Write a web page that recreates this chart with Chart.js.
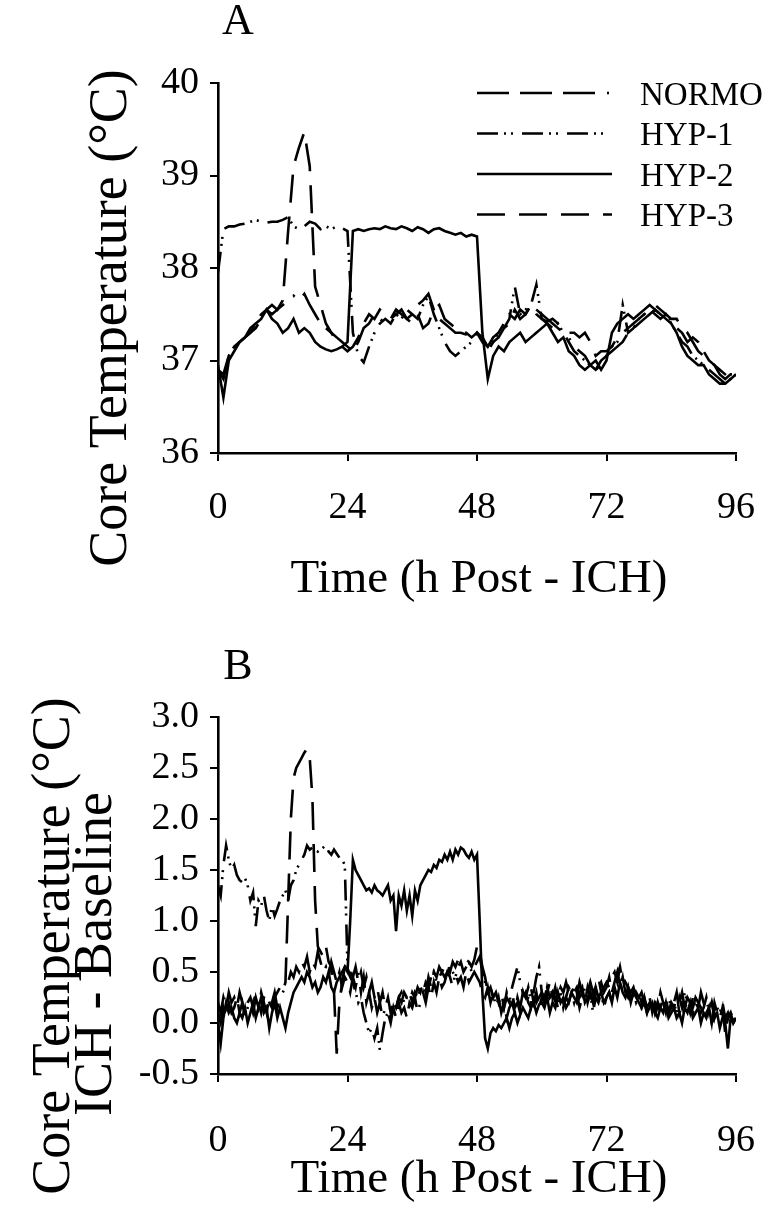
<!DOCTYPE html>
<html>
<head>
<meta charset="utf-8">
<script src="https://cdn.jsdelivr.net/npm/chart.js@4.4.1/dist/chart.umd.min.js"></script>
<style>
  html, body { margin: 0; padding: 0; background: #fff; }
  #wrap { position: relative; width: 769px; height: 1209px; }
  canvas { position: absolute; left: 0; }
  #cA { top: 0; }
  #cB { top: 620px; }
</style>
</head>
<body>
<div id="wrap">
  <canvas id="cA" width="769" height="620"></canvas>
  <canvas id="cB" width="769" height="589"></canvas>
</div>
<script>
// ---- Panel A: core temperature (°C), hourly samples 0–96 h ----
const normoA = [
  36.9, 36.8, 37.05, 37.15, 37.2, 37.25, 37.3, 37.4, 37.5, 37.55, 37.5, 37.55,
  37.6, 37.65, 37.7, 37.65, 37.72, 37.6, 37.5, 37.4, 37.35, 37.3, 37.25, 37.2,
  37.15, 37.1, 37.2, 37.35, 37.4, 37.5, 37.45, 37.4, 37.45, 37.55, 37.5, 37.45,
  37.5, 37.6, 37.65, 37.72, 37.55, 37.45, 37.4, 37.35, 37.3, 37.3, 37.28, 37.25,
  37.3, 37.2, 37.15, 37.25, 37.3, 37.4, 37.5, 37.45, 37.55, 37.5, 37.6, 37.55,
  37.5, 37.45, 37.4, 37.35, 37.3, 37.25, 37.15, 37.1, 37.05, 36.95, 36.9, 36.95,
  37.05, 37.1, 37.15, 37.2, 37.3, 37.35, 37.4, 37.45, 37.5, 37.55, 37.5, 37.45,
  37.45, 37.35, 37.3, 37.2, 37.25, 37.2, 37.1, 37.0, 36.95, 36.9, 36.85, 36.8,
  36.85
];
const hyp1A = [
  37.95, 38.42, 38.45, 38.45, 38.47, 38.48, 38.5, 38.52, 38.5, 38.49, 38.5, 38.5,
  38.52, 38.55, 38.45, 38.42, 38.45, 38.5, 38.48, 38.42, 38.45, 38.42, 38.45, 38.43,
  38.4, 37.3, 37.05, 36.98, 37.15, 37.3, 37.4, 37.45, 37.4, 37.5, 37.45, 37.55,
  37.5, 37.45, 37.6, 37.7, 37.5, 37.35, 37.2, 37.1, 37.05, 37.1, 37.15, 37.2,
  37.3, 37.25, 37.15, 37.2, 37.3, 37.35, 37.45, 37.8, 37.5, 37.55, 37.6, 37.82,
  37.45, 37.4, 37.35, 37.4, 37.3, 37.2, 37.1, 37.05, 37.0, 36.95, 36.9, 37.0,
  37.05, 37.15, 37.2, 37.6, 37.3, 37.35, 37.45, 37.5, 37.55, 37.5, 37.45, 37.5,
  37.4, 37.3, 37.2, 37.15, 37.05, 37.0, 36.95, 36.9, 36.85, 36.8, 36.75, 36.8,
  36.85
];
const hyp2A = [
  36.95, 36.6, 37.0, 37.1, 37.2, 37.25, 37.35, 37.4, 37.45, 37.55, 37.45, 37.4,
  37.3, 37.35, 37.45, 37.3, 37.35, 37.3, 37.2, 37.15, 37.12, 37.1, 37.12, 37.15,
  37.2, 38.4, 38.42, 38.4, 38.42, 38.43, 38.42, 38.45, 38.43, 38.42, 38.45, 38.43,
  38.4, 38.44, 38.42, 38.38, 38.42, 38.43, 38.4, 38.38, 38.36, 38.38, 38.34, 38.36,
  38.34, 37.3, 36.8, 37.05, 37.15, 37.1, 37.2, 37.25, 37.3, 37.2, 37.25, 37.3,
  37.35, 37.4, 37.3, 37.2, 37.25, 37.1, 37.05, 36.95, 36.9, 36.95, 37.0, 36.9,
  37.0, 37.3, 37.4, 37.45, 37.5, 37.45, 37.5, 37.55, 37.6, 37.55, 37.5, 37.45,
  37.4, 37.3, 37.15, 37.05, 37.0, 36.95, 36.95, 36.85, 36.8, 36.75, 36.75, 36.8,
  36.85
];
const hyp3A = [
  36.9, 36.85, 37.05, 37.15, 37.2, 37.25, 37.3, 37.35, 37.45, 37.55, 37.6, 37.55,
  37.65, 38.4, 39.1, 39.3, 39.47, 39.1, 37.8, 37.6, 37.4, 37.3, 37.2, 37.15,
  37.1, 37.15, 37.25, 37.4, 37.5, 37.45, 37.55, 37.5, 37.45, 37.5, 37.55, 37.45,
  37.4, 37.5, 37.35, 37.4, 37.55, 37.6, 37.45, 37.4, 37.35, 37.3, 37.3, 37.25,
  37.3, 37.2, 37.1, 37.2, 37.25, 37.35, 37.4, 37.55, 37.45, 37.5, 37.6, 37.5,
  37.45, 37.42, 37.45, 37.4, 37.35, 37.3, 37.3, 37.25, 37.3, 37.2, 37.05, 37.1,
  37.1, 37.15, 37.25, 37.3, 37.35, 37.4, 37.45, 37.5, 37.55, 37.6, 37.55, 37.5,
  37.45, 37.45, 37.35, 37.3, 37.2, 37.1, 37.05, 37.0, 36.95, 36.85, 36.8, 36.85,
  36.85
];

// ---- Panel B: ICH minus baseline (°C), half-hourly samples 0–96 h ----
const normoB = [
  0.1, 0.0, 0.15, 0.05, 0.2, 0.1, 0.15, 0.25, 0.1, 0.2, 0.05, 0.15,
  0.2, 0.1, 0.25, 0.15, 0.3, 0.2, 0.1, 0.25, 0.2, 0.3, 0.15, 0.25,
  0.3, 0.35, 0.4, 0.5, 0.45, 0.55, 0.5, 0.6, 0.55, 0.65, 0.5, 0.6,
  0.55, 0.7, 0.6, 0.5, 0.55, 0.45, 0.6, 0.5, 0.4, 0.5, 0.35, 0.45,
  0.4, 0.3, 0.45, 0.35, 0.5, 0.3, 0.45, 0.2, 0.3, 0.15, 0.25, 0.1,
  0.2, 0.05, 0.15, 0.1, 0.0, 0.15, 0.05, 0.2, 0.1, 0.15, 0.05, 0.2,
  0.15, 0.25, 0.1, 0.2, 0.3, 0.2, 0.35, 0.25, 0.4, 0.3, 0.45, 0.35,
  0.4, 0.5, 0.45, 0.35, 0.5, 0.4, 0.45, 0.35, 0.5, 0.4, 0.45, 0.5,
  0.45, 0.4, 0.3, 0.25, 0.35, 0.2, 0.3, 0.15, 0.25, 0.1, 0.2, 0.05,
  0.15, 0.2, 0.1, 0.25, 0.15, 0.3, 0.2, 0.25, 0.35, 0.2, 0.3, 0.15,
  0.25, 0.2, 0.3, 0.4, 0.25, 0.35, 0.2, 0.3, 0.15, 0.25, 0.2, 0.3,
  0.35, 0.25, 0.4, 0.3, 0.2, 0.35, 0.25, 0.3, 0.2, 0.35, 0.4, 0.3,
  0.35, 0.45, 0.3, 0.4, 0.5, 0.35, 0.45, 0.3, 0.25, 0.35, 0.2, 0.3,
  0.25, 0.3, 0.2, 0.15, 0.25, 0.1, 0.2, 0.15, 0.3, 0.2, 0.1, 0.25,
  0.15, 0.2, 0.3, 0.1, 0.2, 0.15, 0.25, 0.2, 0.1, 0.2, 0.15, 0.3,
  0.2, 0.1, 0.15, 0.0, 0.2, 0.1, 0.05, 0.15, -0.1, 0.05, 0.1, 0.0,
  0.05
];
const hyp1B = [
  1.35, 1.25, 1.55, 1.74, 1.6, 1.5, 1.55, 1.45, 1.4, 1.38, 1.42, 1.35,
  1.2, 1.28, 0.95, 1.2, 1.15, 1.25, 1.1, 1.0, 1.15, 1.05, 1.12, 1.2,
  1.25, 1.3, 1.2, 1.35, 1.4, 1.5, 1.55, 1.6, 1.65, 1.74, 1.7, 1.72,
  1.7, 1.68, 1.7, 1.72, 1.75, 1.68, 1.65, 1.7, 1.66, 1.62, 1.6, 1.55,
  0.55, 0.45, 0.4, 0.3, 0.2, 0.25, 0.1, 0.0, -0.1, -0.05, -0.15, -0.05,
  -0.27, -0.1, 0.05, 0.1, 0.15, 0.2, 0.15, 0.25, 0.3, 0.2, 0.25, 0.3,
  0.2, 0.3, 0.25, 0.35, 0.3, 0.4, 0.35, 0.45, 0.5, 0.4, 0.45, 0.5,
  0.45, 0.5, 0.55, 0.5, 0.45, 0.55, 0.6, 0.5, 0.55, 0.6, 0.5, 0.55,
  0.6, 0.65, 0.5, 0.4, 0.3, 0.35, 0.25, 0.3, 0.2, 0.25, 0.15, 0.3,
  0.2, 0.35, 0.45, 0.55, 0.4, 0.3, 0.25, 0.35, 0.2, 0.3, 0.45, 0.55,
  0.3, 0.25, 0.35, 0.2, 0.3, 0.25, 0.15, 0.3, 0.2, 0.25, 0.35, 0.3,
  0.2, 0.3, 0.15, 0.25, 0.35, 0.2, 0.3, 0.1, 0.25, 0.2, 0.3, 0.15,
  0.25, 0.3, 0.2, 0.35, 0.45, 0.55, 0.4, 0.3, 0.35, 0.25, 0.3, 0.2,
  0.25, 0.15, 0.2, 0.1, 0.2, 0.15, 0.05, 0.2, 0.1, 0.15, 0.25, 0.1,
  0.15, 0.2, 0.1, 0.25, 0.15, 0.3, 0.2, 0.1, 0.25, 0.15, 0.2, 0.1,
  0.15, 0.25, 0.1, 0.2, 0.05, 0.15, 0.1, 0.2, 0.05, 0.1, 0.0, 0.05,
  0.1
];
const hyp2B = [
  0.0, -0.2, 0.05, 0.2, 0.1, 0.15, 0.05, 0.0, 0.1, 0.05, 0.15, 0.0,
  0.1, 0.2, 0.05, 0.15, 0.25, 0.1, 0.15, -0.05, 0.1, 0.2, 0.05, 0.15,
  0.05, -0.05, 0.1, 0.2, 0.3, 0.35, 0.4, 0.45, 0.4, 0.5, 0.45, 0.35,
  0.4, 0.3, 0.35, 0.45, 0.4, 0.5, 0.35, 0.3, 0.4, 0.45, 0.5, 0.55,
  0.5, 1.0, 1.6, 1.5, 1.45, 1.4, 1.35, 1.3, 1.32, 1.28, 1.35, 1.3,
  1.28, 1.25, 1.3, 1.35, 1.2, 1.25, 0.9, 1.25, 1.15, 1.3, 1.1, 1.25,
  1.05, 1.3, 1.2, 1.35, 1.4, 1.45, 1.5, 1.48, 1.55, 1.52, 1.6, 1.58,
  1.65, 1.6, 1.68, 1.6, 1.7, 1.65, 1.72, 1.7, 1.65, 1.62, 1.68, 1.6,
  1.65, 1.0, 0.3, -0.15, -0.25, -0.1, -0.05, -0.08, -0.02, -0.05, 0.0, 0.05,
  -0.05, 0.05, 0.1, 0.0, 0.08, 0.15, 0.1, 0.05, 0.15, 0.2, 0.1, 0.18,
  0.2, 0.15, 0.25, 0.1, 0.2, 0.15, 0.3, 0.2, 0.25, 0.15, 0.2, 0.3,
  0.25, 0.2, 0.3, 0.35, 0.2, 0.25, 0.3, 0.2, 0.35, 0.25, 0.3, 0.2,
  0.25, 0.3, 0.2, 0.35, 0.25, 0.4, 0.3, 0.25, 0.35, 0.2, 0.3, 0.25,
  0.2, 0.15, 0.25, 0.1, 0.15, 0.2, 0.1, 0.05, 0.15, 0.1, 0.2, 0.05,
  0.1, 0.15, 0.05, 0.1, 0.0, 0.15, 0.1, 0.2, 0.05, 0.1, 0.15, 0.0,
  0.1, 0.05, 0.15, 0.0, 0.05, 0.1, -0.05, 0.05, 0.0, -0.25, 0.05, 0.0,
  0.05
];
const hyp3B = [
  0.2, 0.1, 0.25, 0.15, 0.3, 0.2, 0.25, 0.15, 0.3, 0.2, 0.1, 0.2,
  0.25, 0.15, 0.3, 0.2, 0.1, 0.25, 0.3, 0.2, 0.15, 0.25, 0.3, 0.35,
  0.3, 0.4, 1.2, 2.0, 2.4, 2.5, 2.55, 2.6, 2.65, 2.69, 2.6, 2.2,
  1.2, 0.75, 0.7, 0.65, 0.75, 0.6, 0.55, 0.3, -0.3, 0.2, 0.4, 0.55,
  0.6, 0.5, 0.45, 0.55, 0.4, 0.5, 0.35, 0.45, 0.3, 0.4, 0.25, 0.35,
  0.2, 0.3, 0.15, 0.25, 0.1, 0.2, 0.15, 0.25, 0.2, 0.3, 0.25, 0.2,
  0.3, 0.25, 0.35, 0.3, 0.4, 0.3, 0.45, 0.35, 0.5, 0.45, 0.55, 0.5,
  0.55, 0.6, 0.5, 0.6, 0.55, 0.62, 0.6, 0.58, 0.62, 0.6, 0.55, 0.62,
  0.75, 0.7, 0.55, 0.45, 0.3, 0.35, 0.25, 0.3, 0.2, 0.3, 0.15, 0.25,
  0.2, 0.3, 0.15, 0.2, 0.1, 0.25, 0.3, 0.2, 0.15, 0.3, 0.2, 0.25,
  0.3, 0.2, 0.35, 0.25, 0.3, 0.2, 0.25, 0.35, 0.3, 0.4, 0.3, 0.25,
  0.3, 0.35, 0.25, 0.3, 0.2, 0.3, 0.4, 0.3, 0.35, 0.45, 0.3, 0.35,
  0.4, 0.35, 0.45, 0.5, 0.4, 0.55, 0.45, 0.4, 0.35, 0.3, 0.35, 0.25,
  0.3, 0.2, 0.25, 0.15, 0.2, 0.25, 0.1, 0.2, 0.15, 0.25, 0.2, 0.1,
  0.2, 0.15, 0.25, 0.2, 0.3, 0.15, 0.2, 0.1, 0.15, 0.25, 0.2, 0.15,
  0.2, 0.1, 0.15, 0.2, 0.1, 0.05, 0.15, 0.1, 0.0, 0.05, 0.1, 0.05,
  0.1
];

// Series names and axis tick settings
const seriesNames = ['NORMO', 'HYP-1', 'HYP-2', 'HYP-3'];
const xTickStep = 24;           // 0, 24, 48, 72, 96
const yTicksA = { min: 36, max: 40, step: 1 };
const yTicksB = { min: -0.5, max: 3.0, step: 0.5 };

// Sampling grids (hours after ICH)
const hoursA = normoA.map((_, i) => i);
const hoursB = normoB.map((_, i) => i / 2);

// Line styles, one per group
const dashes = {
  'NORMO': [32, 11, 32, 11, 32, 12, 2, 12],
  'HYP-1': [21, 6, 2, 5, 2, 9],
  'HYP-2': [],
  'HYP-3': [28, 14]
};

const SERIF = "'Liberation Serif', 'Times New Roman', serif";
const LINE_W = 2.6;
Chart.defaults.font.family = SERIF;
Chart.defaults.color = '#000';

function makeSets(arrays) {
  return seriesNames.map((name, i) => ({
    label: name,
    data: arrays[i],
    borderColor: '#000',
    borderWidth: LINE_W,
    borderDash: dashes[name],
    pointRadius: 0,
    tension: 0,
    fill: false
  }));
}

function makeScales(yCfg, yFmt, yWidth, xHeight, xPad) {
  const grid = { display: true, drawOnChartArea: false, drawTicks: true, tickLength: 8, color: '#000', lineWidth: 2 };
  const border = { display: true, color: '#000', width: 2.6 };
  return {
    x: {
      type: 'linear', min: 0, max: 96,
      ticks: { stepSize: xTickStep, font: { size: 38 }, color: '#000', padding: xPad, maxRotation: 0, autoSkip: false },
      grid, border,
      afterFit(s) { s.height = xHeight; s.paddingLeft = 0; s.paddingRight = 0; }
    },
    y: {
      type: 'linear', min: yCfg.min, max: yCfg.max,
      ticks: { stepSize: yCfg.step, font: { size: 38 }, color: '#000', padding: 11, callback: yFmt },
      grid, border,
      afterFit(s) { s.width = yWidth; s.paddingTop = 0; s.paddingBottom = 0; }
    }
  };
}

// Draws the panel letter and the axis titles
const panelText = {
  id: 'panelText',
  afterDraw(chart, args, o) {
    const ctx = chart.ctx;
    ctx.save();
    ctx.fillStyle = '#000';
    ctx.textAlign = 'center';
    ctx.textBaseline = 'middle';
    ctx.font = '44px ' + SERIF;
    ctx.fillText(o.letter, o.letterX, o.letterY);
    ctx.font = o.xTitleSize + 'px ' + SERIF;
    ctx.fillText(o.xTitle, o.xTitleX, o.xTitleY);
    ctx.font = o.yTitleSize + 'px ' + SERIF;
    o.yTitle.forEach((line, i) => {
      ctx.save();
      ctx.translate(o.yTitleX[i], o.yTitleY[i]);
      ctx.rotate(-Math.PI / 2);
      ctx.fillText(line, 0, 0);
      ctx.restore();
    });
    ctx.restore();
  }
};

// Line-style key drawn inside panel A
const lineKey = {
  id: 'lineKey',
  afterDraw(chart, args, o) {
    if (!o.show) return;
    const ctx = chart.ctx;
    ctx.save();
    ctx.strokeStyle = '#000';
    ctx.fillStyle = '#000';
    ctx.lineWidth = LINE_W;
    ctx.font = o.size + 'px ' + SERIF;
    ctx.textAlign = 'left';
    ctx.textBaseline = 'middle';
    chart.data.datasets.forEach((ds, i) => {
      const y = o.y0 + i * o.dy;
      ctx.setLineDash(ds.borderDash || []);
      ctx.beginPath();
      ctx.moveTo(o.x0, y);
      ctx.lineTo(o.x1, y);
      ctx.stroke();
      ctx.setLineDash([]);
      ctx.fillText(ds.label, o.textX, y + 3);
    });
    ctx.restore();
  }
};

new Chart(document.getElementById('cA'), {
  type: 'line',
  data: { labels: hoursA, datasets: makeSets([normoA, hyp1A, hyp2A, hyp3A]) },
  options: {
    responsive: false, animation: false, devicePixelRatio: 1,
    layout: { padding: { left: 0, top: 83, right: 33, bottom: 0 } },
    scales: makeScales(yTicksA, v => String(v), 218, 167, 24),
    plugins: {
      legend: { display: false }, tooltip: { enabled: false },
      panelText: {
        letter: 'A', letterX: 238, letterY: 22,
        xTitleSize: 47, yTitleSize: 54,
        xTitle: 'Time (h Post - ICH)', xTitleX: 479, xTitleY: 580,
        yTitle: ['Core Temperature (°C)'], yTitleX: [112], yTitleY: [318]
      },
      lineKey: { show: true, x0: 477, x1: 612, y0: 93, dy: 40.5, textX: 640, size: 33 }
    }
  },
  plugins: [panelText, lineKey]
});

new Chart(document.getElementById('cB'), {
  type: 'line',
  data: { labels: hoursB, datasets: makeSets([normoB, hyp1B, hyp2B, hyp3B]) },
  options: {
    responsive: false, animation: false, devicePixelRatio: 1,
    layout: { padding: { left: 0, top: 97, right: 33, bottom: 0 } },
    scales: makeScales(yTicksB, v => Number(v).toFixed(1), 218, 135, 36),
    plugins: {
      legend: { display: false }, tooltip: { enabled: false },
      panelText: {
        letter: 'B', letterX: 238, letterY: 47,
        xTitleSize: 47, yTitleSize: 54,
        xTitle: 'Time (h Post - ICH)', xTitleX: 479, xTitleY: 560,
        yTitle: ['Core Temperature (°C)', 'ICH - Baseline'], yTitleX: [55, 97], yTitleY: [326, 334]
      },
      lineKey: { show: false }
    }
  },
  plugins: [panelText, lineKey]
});
</script>
</body>
</html>
